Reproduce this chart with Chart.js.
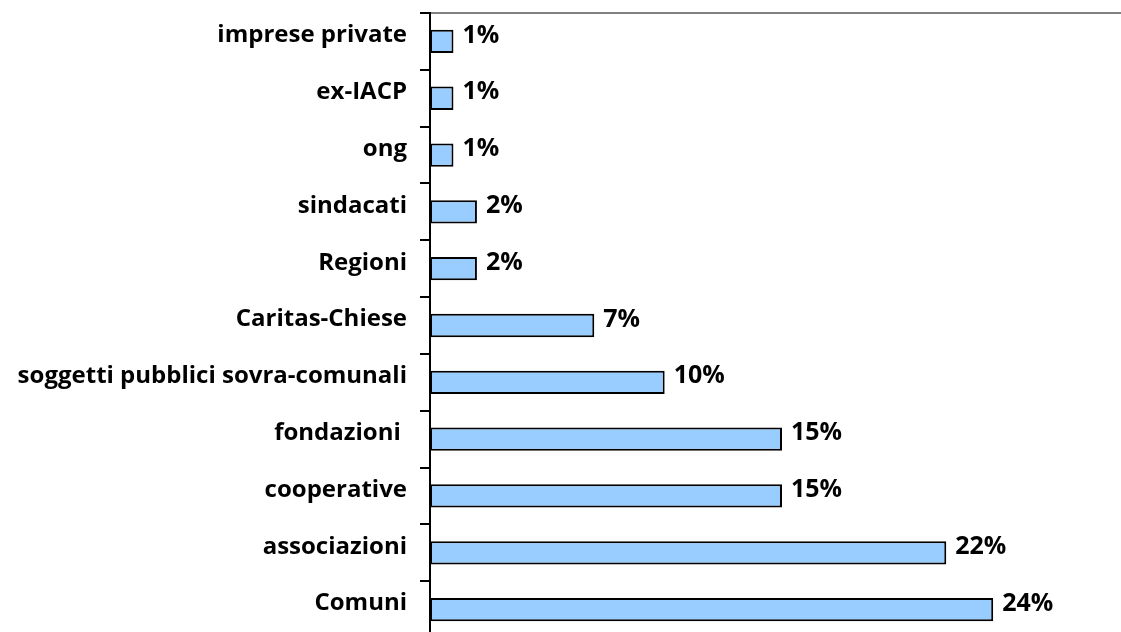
<!DOCTYPE html>
<html>
<head>
<meta charset="utf-8">
<script src="https://cdn.jsdelivr.net/npm/chart.js@4.4.1/dist/chart.umd.min.js"></script>
<style>
  html, body { margin: 0; padding: 0; background: #fff; overflow: hidden; }
  canvas { display: block; }
</style>
</head>
<body>
<canvas id="soggettiChart" width="1134" height="638"></canvas>
<script>
// Soggetti coinvolti - quota percentuale per tipologia
var categorie = [
    'imprese private',
    'ex-IACP',
    'ong',
    'sindacati',
    'Regioni',
    'Caritas-Chiese',
    'soggetti pubblici sovra-comunali',
    'fondazioni ',
    'cooperative',
    'associazioni',
    'Comuni'
];
var percentuali = [1, 1, 1, 2, 2, 7, 10, 15, 15, 22, 24];
var scalaMax = 30;

var fontFamily = '"Open Sans", "Liberation Sans", sans-serif';

// Etichette con il valore a destra di ogni barra
var etichetteValori = {
    id: 'etichetteValori',
    afterDatasetsDraw: function (chart) {
        var ctx = chart.ctx;
        var meta = chart.getDatasetMeta(0);
        ctx.save();
        ctx.font = 'bold 25px ' + fontFamily;
        ctx.fillStyle = '#000';
        ctx.textAlign = 'left';
        ctx.textBaseline = 'middle';
        meta.data.forEach(function (bar, i) {
            ctx.fillText(percentuali[i] + '%', bar.x + 9, bar.y - 6);
        });
        ctx.restore();
    }
};

new Chart(document.getElementById('soggettiChart'), {
    type: 'bar',
    data: {
        labels: categorie,
        datasets: [{
            data: percentuali,
            backgroundColor: '#99CCFF',
            borderColor: '#000',
            borderWidth: 2,
            borderSkipped: false,
            barPercentage: 0.41,
            categoryPercentage: 1
        }]
    },
    options: {
        indexAxis: 'y',
        responsive: false,
        animation: false,
        layout: { padding: 0 },
        plugins: {
            legend: { display: false },
            tooltip: { enabled: false }
        },
        scales: {
            x: {
                position: 'top',
                min: 0,
                max: scalaMax,
                ticks: { display: false },
                grid: { display: false },
                border: { display: true, color: '#808080', width: 2 },
                afterFit: function (scale) {
                    scale.height = 13;
                    scale.paddingLeft = 0;
                    scale.paddingRight = 0;
                }
            },
            y: {
                grid: {
                    drawOnChartArea: false,
                    drawTicks: true,
                    tickLength: 10,
                    color: '#000',
                    lineWidth: 2
                },
                border: { display: true, color: '#000', width: 2 },
                ticks: {
                    color: '#000',
                    padding: 13,
                    labelOffset: -6,
                    font: { family: fontFamily, size: 24, weight: 'bold' }
                },
                afterFit: function (scale) {
                    scale.width = 430;
                    scale.paddingTop = 0;
                    scale.paddingBottom = 0;
                }
            }
        }
    },
    plugins: [etichetteValori]
});
</script>
</body>
</html>
